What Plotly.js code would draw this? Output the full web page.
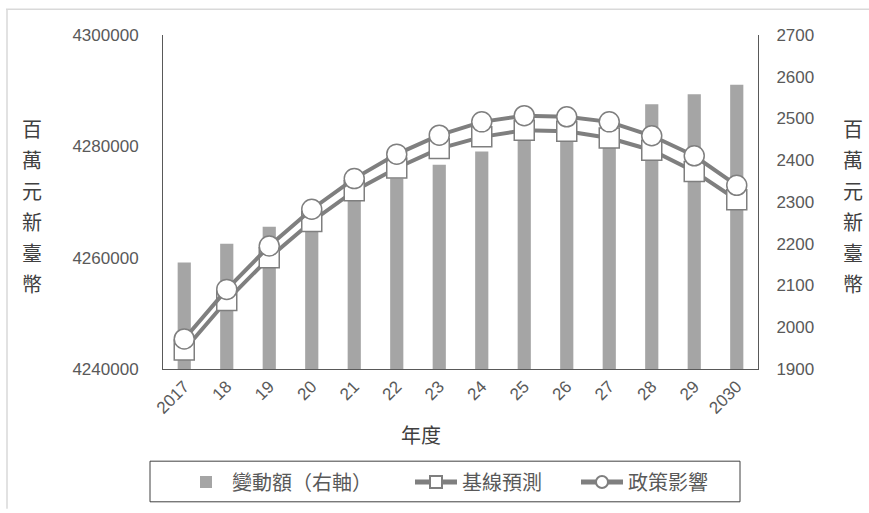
<!DOCTYPE html>
<html>
<head>
<meta charset="utf-8">
<script src="https://cdn.plot.ly/plotly-3.0.1.min.js"></script>
<style>html,body{margin:0;padding:0;background:#fff;}#chart{width:869px;height:513px;}</style>
</head>
<body>
<div id="chart"></div>
<script>
// ---- data ----
var years = ["2017","18","19","20","21","22","23","24","25","26","27","28","29","2030"];
var changeAmount = [2155, 2200, 2241, 2280, 2318, 2356, 2389, 2421, 2450, 2480, 2507, 2534, 2558, 2581];
var baseline = [4243400, 4252300, 4260000, 4266500, 4272000, 4276100, 4279600, 4281700, 4282900, 4282700, 4281500, 4279300, 4275500, 4270400];
var policy = [4245400, 4254300, 4262100, 4268700, 4274200, 4278600, 4282000, 4284400, 4285500, 4285300, 4284400, 4281900, 4278300, 4273000];
var seriesNames = ["變動額（右軸）", "基線預測", "政策影響"];
var yTitleChars = ["百","萬","元","新","臺","幣"];
var xTitle = "年度";

var tickFont = {family: "Liberation Sans, Arial, sans-serif", size: 17, color: "#595959"};
var cjk = "Noto Sans CJK TC, Noto Sans CJK SC, sans-serif";
var gray = "#7f7f7f";

var traces = [
  {
    type: "bar", x: years, y: changeAmount, name: seriesNames[0],
    yaxis: "y", width: 0.31, legend: "legend",
    marker: {color: "#a5a5a5"}
  },
  {
    type: "scatter", mode: "lines+markers", x: years, y: baseline, name: seriesNames[1],
    yaxis: "y2", legend: "legend2",
    line: {color: gray, width: 4},
    marker: {symbol: "square", size: 20, color: "#ffffff", line: {color: gray, width: 1.5}}
  },
  {
    type: "scatter", mode: "lines+markers", x: years, y: policy, name: seriesNames[2],
    yaxis: "y2", legend: "legend3",
    line: {color: gray, width: 4},
    marker: {symbol: "circle", size: 20, color: "#ffffff", line: {color: gray, width: 1.5}}
  }
];

// plot area: x 163..758, y 35..372
var L = 163, R = 758, T = 35, B = 372;
function px(x){ return (x - L) / (R - L); }
function py(y){ return (B - y) / (B - T); }

var annotations = [];
yTitleChars.forEach(function(c, i){
  var yy = 129 + 31.4 * i;
  annotations.push({text: c, xref: "paper", yref: "paper", x: px(32), y: py(yy),
    showarrow: false, xanchor: "center", yanchor: "middle",
    font: {family: cjk, size: 20, color: "#404040"}});
  annotations.push({text: c, xref: "paper", yref: "paper", x: px(853), y: py(yy),
    showarrow: false, xanchor: "center", yanchor: "middle",
    font: {family: cjk, size: 20, color: "#404040"}});
});
annotations.push({text: xTitle, xref: "paper", yref: "paper", x: px(421), y: py(438),
  showarrow: false, xanchor: "center", yanchor: "middle",
  font: {family: cjk, size: 20, color: "#404040"}});

function legendAt(x0){
  return {
    orientation: "h", x: px(x0), xanchor: "left", y: py(486), yanchor: "middle",
    borderwidth: 0, bgcolor: "rgba(0,0,0,0)", itemwidth: 42, itemsizing: "constant",
    font: {family: cjk, size: 20, color: "#595959"}
  };
}

var layout = {
  width: 869, height: 513,
  margin: {l: L, r: 869 - R, t: T, b: 513 - B, pad: 0},
  paper_bgcolor: "#ffffff", plot_bgcolor: "#ffffff",
  showlegend: true,
  xaxis: {
    type: "category", range: [-0.5, years.length - 0.5],
    showline: true, linecolor: "#595959", linewidth: 1,
    showgrid: false, zeroline: false, ticks: "", tickangle: -45,
    tickfont: tickFont, mirror: false
  },
  yaxis: {
    side: "right", range: [1900, 2700], dtick: 100, tick0: 1900,
    showline: true, linecolor: "#595959", linewidth: 1,
    showgrid: false, zeroline: false, ticks: "", tickfont: tickFont,
    ticklabelstandoff: 14
  },
  yaxis2: {
    overlaying: "y", side: "left", range: [4240000, 4300000], dtick: 20000, tick0: 4240000,
    tickformat: "d",
    showline: true, linecolor: "#595959", linewidth: 1,
    showgrid: false, zeroline: false, ticks: "", tickfont: tickFont,
    ticklabelstandoff: 20
  },
  legend: legendAt(180),
  legend2: legendAt(410),
  legend3: legendAt(576),
  annotations: annotations,
  shapes: [
    {type: "line", xref: "paper", yref: "paper", x0: px(6), x1: px(869), y0: py(9), y1: py(9),
     line: {color: "#d9d9d9", width: 1.5}},
    {type: "line", xref: "paper", yref: "paper", x0: px(7), x1: px(7), y0: py(9), y1: py(513),
     line: {color: "#d9d9d9", width: 1.5}},
    {type: "rect", xref: "paper", yref: "paper", x0: px(150), x1: px(740), y0: py(465), y1: py(506),
     line: {color: "#404040", width: 1}, fillcolor: "rgba(0,0,0,0)"}
  ]
};

Plotly.newPlot("chart", traces, layout, {displayModeBar: false, staticPlot: true});
</script>
</body>
</html>
